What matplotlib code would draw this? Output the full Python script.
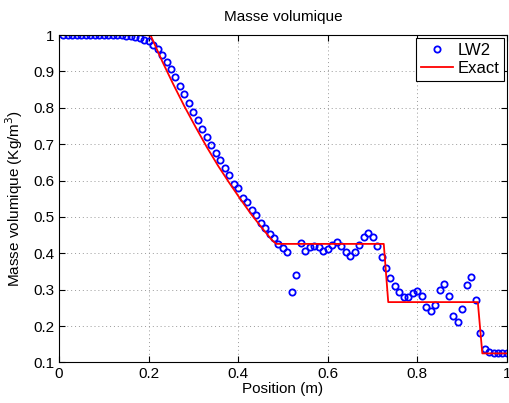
import matplotlib

matplotlib.use("Agg")
import matplotlib.pyplot as plt
import numpy as np

plt.rcParams["font.family"] = ["Liberation Sans", "DejaVu Sans"]

# LW2 scheme: density at grid points x = 0.01 .. 1.00
lw2_x = np.arange(1, 101) / 100
lw2_rho = [
    1.0, 1.0, 1.0, 1.0, 1.0, 1.0, 1.0, 1.0, 1.0, 1.0,
    1.0, 1.0, 1.0, 0.999, 0.998, 0.997, 0.995, 0.991, 0.986, 0.984,
    0.973, 0.961, 0.944, 0.926, 0.906, 0.884, 0.860, 0.837, 0.813, 0.789,
    0.766, 0.743, 0.720, 0.699, 0.676, 0.656, 0.634, 0.616, 0.591, 0.579,
    0.553, 0.540, 0.519, 0.505, 0.483, 0.470, 0.454, 0.441, 0.427, 0.415,
    0.403, 0.294, 0.340, 0.429, 0.407, 0.418, 0.421, 0.417, 0.407, 0.411,
    0.424, 0.432, 0.421, 0.403, 0.394, 0.403, 0.424, 0.446, 0.455, 0.446,
    0.421, 0.390, 0.359, 0.333, 0.311, 0.293, 0.280, 0.280, 0.292, 0.296,
    0.282, 0.253, 0.241, 0.259, 0.298, 0.316, 0.282, 0.228, 0.211, 0.247,
    0.312, 0.334, 0.271, 0.182, 0.138, 0.128, 0.125, 0.125, 0.125, 0.125,
]

# exact solution
exact_x = [0.195, 0.205, 0.23, 0.255, 0.28, 0.305, 0.33, 0.355, 0.38, 0.405,
           0.43, 0.455, 0.475, 0.485, 0.725, 0.735, 0.935, 0.945, 1.0]
exact_rho = [1.0, 0.998, 0.929, 0.865, 0.804, 0.747, 0.692, 0.641, 0.594, 0.549,
             0.506, 0.467, 0.437, 0.426, 0.426, 0.266, 0.266, 0.125, 0.125]

fig = plt.figure(figsize=(5.1, 4.03), dpi=100)
ax = fig.add_axes([0.1157, 0.1005, 0.8783, 0.8125])

ax.plot(lw2_x, lw2_rho, "o", color="blue", markerfacecolor="none",
        markersize=4.5, markeredgewidth=1.3, label="LW2")
ax.plot(exact_x, exact_rho, "-", color="red", linewidth=1.3, label="Exact")

ax.set_xlim(0, 1)
ax.set_ylim(0.1, 1)
ax.set_xticks([0, 0.2, 0.4, 0.6, 0.8, 1])
ax.set_xticklabels(["0", "0.2", "0.4", "0.6", "0.8", "1"])
ax.set_yticks([0.1, 0.2, 0.3, 0.4, 0.5, 0.6, 0.7, 0.8, 0.9, 1])
ax.set_yticklabels(["0.1", "0.2", "0.3", "0.4", "0.5", "0.6", "0.7", "0.8", "0.9", "1"])
ax.tick_params(direction="in", top=True, right=True, labelsize=11, length=4, pad=3)
ax.grid(True, linestyle=(0, (1, 3)), color="#999999", linewidth=0.7)
for s in ax.spines.values():
    s.set_linewidth(0.8)

ax.set_title("Masse volumique", fontsize=11, pad=10)
ax.set_xlabel("Position (m)", fontsize=11, labelpad=1)
ax.set_ylabel("Masse volumique (Kg/m$^3$)", fontsize=11, labelpad=6)

leg = ax.legend(loc="upper right", fontsize=12, fancybox=False, framealpha=1,
                edgecolor="black", borderaxespad=0.15, handlelength=1.9,
                handletextpad=0.3, borderpad=0.3, labelspacing=0.2, numpoints=1)
leg.get_frame().set_linewidth(0.8)

fig.savefig("out.png", dpi=100)
